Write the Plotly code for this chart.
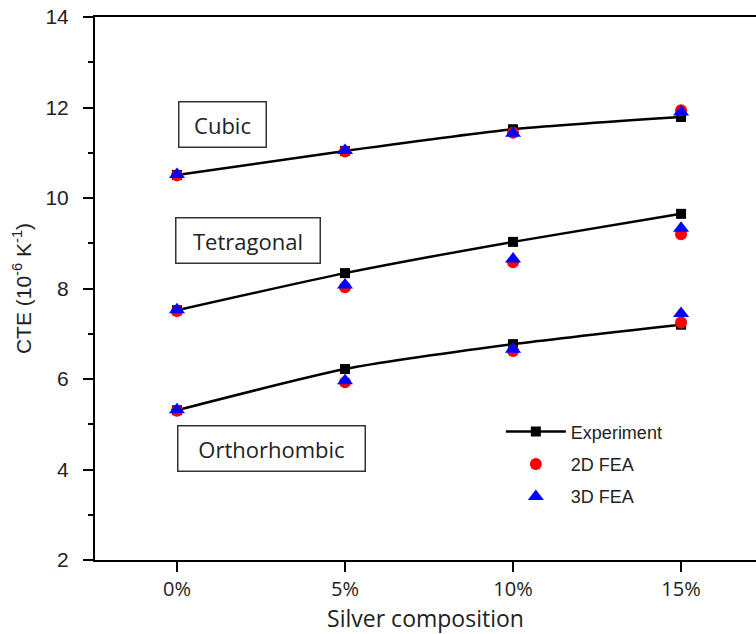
import plotly.graph_objects as go

categories = ["0%", "5%", "10%", "15%"]

cubic_exp = [10.51, 11.04, 11.52, 11.79]
cubic_2d = [10.50, 11.03, 11.44, 11.94]
cubic_3d = [10.52, 11.05, 11.43, 11.90]

tetra_exp = [7.52, 8.34, 9.03, 9.65]
tetra_2d = [7.50, 8.03, 8.58, 9.20]
tetra_3d = [7.53, 8.08, 8.65, 9.33]

ortho_exp = [5.31, 6.22, 6.77, 7.20]
ortho_2d = [5.30, 5.93, 6.62, 7.25]
ortho_3d = [5.32, 5.96, 6.66, 7.45]

phase_labels = ["Cubic", "Tetragonal", "Orthorhombic"]
phase_label_x = [0.27, 0.42, 0.56]
phase_label_y = [11.62, 9.05, 4.46]
phase_box_w = [89, 146, 189]

fig = go.Figure()

exp_sets = [cubic_exp, tetra_exp, ortho_exp]
d2_sets = [cubic_2d, tetra_2d, ortho_2d]
d3_sets = [cubic_3d, tetra_3d, ortho_3d]

for i, ys in enumerate(exp_sets):
    fig.add_trace(go.Scatter(
        x=categories, y=ys, mode="lines+markers", name="Experiment",
        line=dict(color="black", width=2.5, shape="spline", smoothing=0.6),
        marker=dict(symbol="square", size=10, color="black"),
        showlegend=(i == 0), legendgroup="exp"))
for i, ys in enumerate(d2_sets):
    fig.add_trace(go.Scatter(
        x=categories, y=ys, mode="markers", name="2D FEA",
        marker=dict(symbol="circle", size=12, color="#ff0000"),
        showlegend=(i == 0), legendgroup="d2"))
for i, ys in enumerate(d3_sets):
    fig.add_trace(go.Scatter(
        x=categories, y=ys, mode="markers", name="3D FEA",
        marker=dict(symbol="triangle-up", size=14, color="#0000ff"),
        showlegend=(i == 0), legendgroup="d3"))

for lab, lx, ly, bw in zip(phase_labels, phase_label_x, phase_label_y, phase_box_w):
    fig.add_annotation(
        x=lx, y=ly, xref="x", yref="y", text=lab, showarrow=False,
        font=dict(family="Open Sans", size=22, color="#222222"),
        bordercolor="#333333", borderwidth=1.5, borderpad=0,
        width=bw - 3, height=44, bgcolor="white", align="center")

fig.update_layout(
    width=756, height=634,
    margin=dict(l=95, r=0, t=17, b=74),
    plot_bgcolor="white", paper_bgcolor="white",
    showlegend=True,
    legend=dict(
        x=0.614, y=0.27, xanchor="left", yanchor="top",
        font=dict(family="Arial", size=18, color="#222222"),
        itemwidth=60, tracegroupgap=6, bgcolor="rgba(0,0,0,0)",
        traceorder="grouped"),
    xaxis=dict(
        type="category", range=[-0.488, 3.446],
        showline=True, linecolor="black", linewidth=2, mirror=True,
        ticks="outside", ticklen=10, tickwidth=2, tickcolor="black",
        showgrid=False, zeroline=False,
        tickfont=dict(family="Open Sans", size=20, color="#222222"),
        title=dict(text="Silver composition",
                   font=dict(family="Open Sans", size=23, color="#222222"),
                   standoff=12)),
    yaxis=dict(
        range=[2, 14], tickvals=[2, 4, 6, 8, 10, 12, 14],
        showline=True, linecolor="black", linewidth=2, mirror=False,
        ticks="outside", ticklen=10, tickwidth=2, tickcolor="black",
        ticklabelstandoff=10,
        minor=dict(dtick=1, ticks="outside", ticklen=5, tickwidth=2, tickcolor="black"),
        showgrid=False, zeroline=False,
        tickfont=dict(family="Arial", size=21, color="#222222"),
        title=dict(text="CTE (10<sup>-6</sup> K<sup>-1</sup>)",
                   font=dict(family="Arial", size=21, color="#222222"),
                   standoff=8)),
)

fig.write_html("out.html")
